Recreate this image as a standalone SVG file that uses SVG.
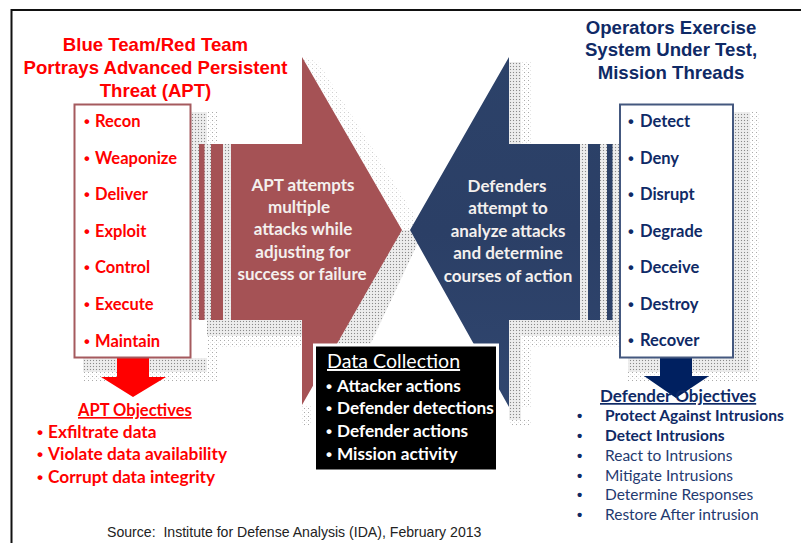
<svg xmlns="http://www.w3.org/2000/svg" width="801" height="543" viewBox="0 0 801 543">
<style>
text{font-family:"Lato","Carlito","Open Sans",sans-serif;font-weight:700}
.h{font-family:"Liberation Sans",Arial,sans-serif;font-weight:700;font-size:18.600px;text-anchor:middle}
.b{font-family:"Liberation Sans",Arial,sans-serif}
.red{fill:#f00}.navy{fill:#0f2a66}
.li{font-size:16.500px}
.ar{font-size:17px;fill:#f4f0ee;text-anchor:middle}
.dc{font-size:17.200px;fill:#fff}
.ob{font-size:17.300px}
.dn{font-size:15.500px;fill:#1f3a70;font-weight:400}
.dnb{font-size:15.500px;fill:#0f2a66;font-weight:700}
</style>
<defs>
<pattern id="dense" width="3" height="3" patternUnits="userSpaceOnUse"><rect width="3" height="3" fill="#e8e8e8"/><rect width="1" height="1" fill="#8a8a8a"/><rect x="1.500" y="1.500" width="1" height="1" fill="#fff"/></pattern>
<pattern id="sparse" width="4" height="4" patternUnits="userSpaceOnUse"><rect width="4" height="4" fill="#fff"/><rect width="1" height="1" fill="#aaa"/><rect x="2" y="2" width="1" height="1" fill="#e4e4e4"/></pattern>
<linearGradient id="blue" x1="0" y1="0" x2="0" y2="1"><stop offset="0" stop-color="#2c4269"/><stop offset=".5" stop-color="#2b3f66"/><stop offset="1" stop-color="#30466f"/></linearGradient>
</defs>
<rect width="801" height="543" fill="#fff"/>
<path d="M11.500 543V10H801" fill="none" stroke="#111" stroke-width="2"/>
<g id="shadows">
<g fill="url(#sparse)">
<path d="M83 372H217V381H83Z"/>
<path d="M207 112H217V372H207Z"/>
<path d="M207 336H302V347H207Z"/>
<path d="M302 57L402 230H424L318 62Z" opacity=".55"/>
<path d="M302 405V425H312V405Z"/>
<path d="M521 62H531V144H521ZM521 320H620V347H521ZM521 347H531V420H521ZM509 407V425H531V407Z"/>
<path d="M750 112H760V372H750ZM628 372H760V381H628Z"/>
</g>
<g fill="url(#dense)">
<path d="M191 112H207V358H83V372H207V336H302V320H191Z"/>
<path d="M191 144H231V320H191Z"/>
<path d="M402 230H424L370 345H320Z"/>
<path d="M509 62H521V144H509ZM509 320H620V336H521V420H509Z"/>
<path d="M580 144H620V320H580Z"/>
<path d="M733 112H750V372H628V358H733Z"/>
</g>
</g>
<g id="connectors">
<path id="red-arrow" d="M199 144H204.500V320H199ZM211 144H223V320H211ZM231 144H302V57L402 230L302 405V320H231Z" fill="#a55255"/>
<path id="blue-arrow" d="M607 144H612.500V320H607ZM588 144H600V320H588ZM580 144H509V57L410 230L509 407V320H580Z" fill="url(#blue)"/>
<path id="red-down" d="M117 358H149V377H166L133 397L101 377H117Z" fill="#f00"/>
<path id="navy-down" d="M660 358H692V376H709L676 398L644 376H660Z" fill="#002060"/>
</g>
<g id="left-title" class="red">
<text class="h" x="155.500" y="51">Blue Team/Red Team</text>
<text class="h" x="155.500" y="74">Portrays Advanced Persistent</text>
<text class="h" x="155.500" y="97">Threat (APT)</text>
</g>
<g id="right-title" class="navy">
<text class="h" x="671" y="34">Operators Exercise</text>
<text class="h" x="671" y="56">System Under Test,</text>
<text class="h" x="671" y="79">Mission Threads</text>
</g>
<g id="apt-box">
<rect x="74.500" y="104.500" width="116" height="253" fill="#fff" stroke="#a55a5e" stroke-width="2"/>
<g class="red li">
<text x="84" y="127"><tspan class="b">•</tspan><tspan x="95">Recon</tspan></text>
<text x="84" y="164"><tspan class="b">•</tspan><tspan x="95">Weaponize</tspan></text>
<text x="84" y="200"><tspan class="b">•</tspan><tspan x="95">Deliver</tspan></text>
<text x="84" y="237"><tspan class="b">•</tspan><tspan x="95">Exploit</tspan></text>
<text x="84" y="273"><tspan class="b">•</tspan><tspan x="95">Control</tspan></text>
<text x="84" y="310"><tspan class="b">•</tspan><tspan x="95">Execute</tspan></text>
<text x="84" y="347"><tspan class="b">•</tspan><tspan x="95">Maintain</tspan></text>
</g>
</g>
<g id="defender-box">
<rect x="620" y="104.500" width="113" height="253" fill="#fff" stroke="#44587f" stroke-width="2"/>
<g class="navy li">
<text x="628" y="126.500"><tspan class="b">•</tspan><tspan x="640">Detect</tspan></text>
<text x="628" y="163.500"><tspan class="b">•</tspan><tspan x="640">Deny</tspan></text>
<text x="628" y="199.500"><tspan class="b">•</tspan><tspan x="640">Disrupt</tspan></text>
<text x="628" y="236.500"><tspan class="b">•</tspan><tspan x="640">Degrade</tspan></text>
<text x="628" y="272.500"><tspan class="b">•</tspan><tspan x="640">Deceive</tspan></text>
<text x="628" y="309.500"><tspan class="b">•</tspan><tspan x="640">Destroy</tspan></text>
<text x="628" y="346"><tspan class="b">•</tspan><tspan x="640">Recover</tspan></text>
</g>
</g>
<g id="apt-text">
<text class="ar" x="303" y="191">APT attempts</text>
<text class="ar" x="299" y="213">multiple</text>
<text class="ar" x="303" y="235">attacks while</text>
<text class="ar" x="303" y="258">adjusting for</text>
<text class="ar" x="302" y="280">success or failure</text>
</g>
<g id="defender-text">
<text class="ar" x="507" y="191.500">Defenders</text>
<text class="ar" x="508" y="214">attempt to</text>
<text class="ar" x="508" y="236.500">analyze attacks</text>
<text class="ar" x="508" y="259">and determine</text>
<text class="ar" x="508" y="281.500">courses of action</text>
</g>
<g id="data-collection">
<rect x="314.500" y="345" width="183" height="126" fill="#000" stroke="#fff" stroke-width="3"/>
<text x="327" y="368" style="font-size:19.600px;fill:#fff;font-weight:400;text-decoration:underline">Data Collection</text>
<g class="dc">
<text x="326" y="392"><tspan class="b">•</tspan><tspan x="337">Attacker actions</tspan></text>
<text x="326" y="414"><tspan class="b">•</tspan><tspan x="337">Defender detections</tspan></text>
<text x="326" y="437"><tspan class="b">•</tspan><tspan x="337">Defender actions</tspan></text>
<text x="326" y="460"><tspan class="b">•</tspan><tspan x="337">Mission activity</tspan></text>
</g>
</g>
<g id="apt-objectives" class="red">
<text x="78" y="416" style="font-size:16.500px;text-decoration:underline">APT Objectives</text>
<g class="ob">
<text x="37" y="438"><tspan class="b">•</tspan><tspan x="48">Exfiltrate data</tspan></text>
<text x="37" y="460"><tspan class="b">•</tspan><tspan x="48">Violate data availability</tspan></text>
<text x="37" y="483"><tspan class="b">•</tspan><tspan x="48">Corrupt data integrity</tspan></text>
</g>
</g>
<g id="defender-objectives">
<text x="600" y="402" class="navy" style="font-size:17px;text-decoration:underline">Defender Objectives</text>
<g fill="#0f2a66" style="font-size:15px">
<text class="b" x="577" y="421">•</text><text class="b" x="577" y="441">•</text><text class="b" x="577" y="461">•</text><text class="b" x="577" y="481">•</text><text class="b" x="577" y="500">•</text><text class="b" x="577" y="520">•</text>
</g>
<text class="dnb" x="605" y="421">Protect Against Intrusions</text>
<text class="dnb" x="605" y="441">Detect Intrusions</text>
<text class="dn" x="605" y="461">React to Intrusions</text>
<text class="dn" x="605" y="481">Mitigate Intrusions</text>
<text class="dn" x="605" y="500">Determine Responses</text>
<text class="dn" x="605" y="520">Restore After intrusion</text>
</g>
<text id="source" x="107" y="537" xml:space="preserve" style="font-family:'Liberation Sans',Arial,sans-serif;font-weight:400;font-size:14.100px;fill:#222">Source:  Institute for Defense Analysis (IDA), February 2013</text>
</svg>
